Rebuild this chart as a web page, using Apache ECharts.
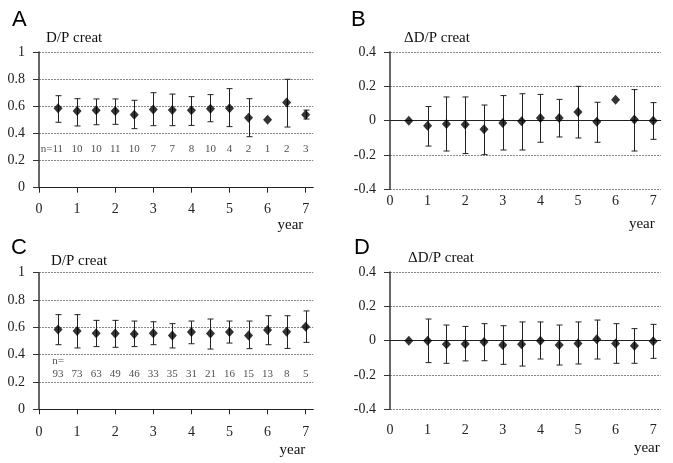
<!DOCTYPE html>
<html><head><meta charset="utf-8">
<script src="https://cdn.jsdelivr.net/npm/echarts@6/dist/echarts.min.js"></script>
<style>html,body{margin:0;padding:0;background:#fff}#c{width:673px;height:463px}</style>
</head><body><div id="c"></div>
<script>
// ---- data ----
const years = [0.5, 1, 1.5, 2, 2.5, 3, 3.5, 4, 4.5, 5, 5.5, 6, 6.5, 7];
const xTicks = [0, 1, 2, 3, 4, 5, 6, 7];

const aMean = [0.585, 0.565, 0.570, 0.565, 0.538, 0.577, 0.572, 0.570, 0.582, 0.585, 0.516, 0.501, 0.627, 0.538];
const aLow  = [0.482, 0.455, 0.464, 0.467, 0.435, 0.457, 0.457, 0.459, 0.486, 0.450, 0.376, null, 0.447, 0.506];
const aHigh = [0.678, 0.656, 0.654, 0.654, 0.644, 0.700, 0.690, 0.671, 0.686, 0.730, 0.656, null, 0.799, 0.572];
const aN    = [11, 10, 10, 11, 10, 7, 7, 8, 10, 4, 2, 1, 2, 3];

const bMean = [0, -0.029, -0.019, -0.023, -0.050, -0.014, -0.004, 0.016, 0.016, 0.050, -0.006, 0.122, 0.006, 0];
const bLow  = [null, -0.148, -0.177, -0.192, -0.198, -0.171, -0.171, -0.126, -0.095, -0.101, -0.126, null, -0.177, -0.109];
const bHigh = [null, 0.082, 0.138, 0.138, 0.091, 0.146, 0.157, 0.153, 0.124, 0.200, 0.107, null, 0.181, 0.105];

const cMean = [0.585, 0.573, 0.556, 0.554, 0.551, 0.556, 0.541, 0.566, 0.554, 0.566, 0.541, 0.580, 0.568, 0.605];
const cLow  = [0.473, 0.449, 0.459, 0.454, 0.459, 0.473, 0.449, 0.480, 0.441, 0.485, 0.444, 0.473, 0.446, 0.490];
const cHigh = [0.693, 0.693, 0.651, 0.651, 0.646, 0.641, 0.627, 0.646, 0.661, 0.646, 0.646, 0.685, 0.685, 0.720];
const cN    = [93, 73, 63, 49, 46, 33, 35, 31, 21, 16, 15, 13, 8, 5];

const dMean = [0, 0, -0.021, -0.019, -0.008, -0.025, -0.021, 0, -0.025, -0.016, 0.008, -0.016, -0.029, -0.004];
const dLow  = [null, -0.128, -0.132, -0.118, -0.117, -0.138, -0.148, -0.107, -0.142, -0.136, -0.107, -0.132, -0.132, -0.103];
const dHigh = [null, 0.126, 0.091, 0.083, 0.099, 0.087, 0.109, 0.109, 0.091, 0.109, 0.120, 0.099, 0.070, 0.095];

const panelLetters = ['A', 'B', 'C', 'D'];
const yTitleAbs = 'D/P creat';
const yTitleDelta = '\u0394D/P creat';
const xTitle = 'year';

// ---- chart ----
const serif = '"Liberation Serif","Times New Roman",serif';
const sans = '"Liberation Sans",Arial,sans-serif';
const chart = echarts.init(document.getElementById('c'), null, {renderer: 'canvas'});

function errData(lo, hi) {
  return years.map((x, i) => lo[i] == null ? null : [x, lo[i], hi[i]]).filter(Boolean);
}
function renderErr(params, api) {
  const x = api.value(0);
  const p1 = api.coord([x, api.value(2)]);
  const p2 = api.coord([x, api.value(1)]);
  const cx = Math.round(p1[0]) + 0.5;
  const w = 3;
  const st = {stroke: '#222', lineWidth: 1};
  return {type: 'group', children: [
    {type: 'line', shape: {x1: cx, y1: p1[1], x2: cx, y2: p2[1]}, style: st},
    {type: 'line', shape: {x1: cx - w, y1: p1[1], x2: cx + w, y2: p1[1]}, style: st},
    {type: 'line', shape: {x1: cx - w, y1: p2[1], x2: cx + w, y2: p2[1]}, style: st}
  ]};
}

const grids = [
  {left: 39, top: 52, width: 274.3, height: 135.7},
  {left: 390, top: 52, width: 270.7, height: 137.3},
  {left: 39, top: 272.7, width: 274.3, height: 136.6},
  {left: 390, top: 272, width: 270.7, height: 137.3}
];

function mainX(gi, ticks, margin, nameGap, namePad) {
  return {
    type: 'value', gridIndex: gi, min: 0, max: 7.2, position: 'bottom',
    name: xTitle, nameLocation: 'end', nameGap: nameGap,
    nameTextStyle: {fontFamily: serif, fontSize: 15, color: '#111', align: 'right', verticalAlign: 'top', padding: [namePad, 0, 0, 0]},
    axisLine: {show: ticks, onZero: false, lineStyle: {color: '#222', width: 1}},
    axisTick: {show: ticks, length: 5, customValues: xTicks, lineStyle: {color: '#222'}},
    axisLabel: {show: true, customValues: xTicks, margin: margin, fontFamily: serif, fontSize: 14, color: '#222'},
    splitLine: {show: false}
  };
}
function zeroX(gi) {
  return {
    type: 'value', gridIndex: gi, min: 0, max: 7.2, position: 'top',
    axisLine: {show: true, onZero: true, lineStyle: {color: '#222', width: 1}},
    axisTick: {show: false}, axisLabel: {show: false}, splitLine: {show: false}
  };
}
function yAx(gi, min, max, name, pad, gap) {
  return {
    type: 'value', gridIndex: gi, min: min, max: max, interval: 0.2,
    name: name, nameLocation: 'end', nameGap: gap,
    nameTextStyle: {fontFamily: serif, fontSize: 15, color: '#111', align: 'left', verticalAlign: 'middle', padding: [0, 0, 0, pad]},
    axisLine: {show: true, lineStyle: {color: '#333', width: 1.5}},
    axisTick: {show: true, inside: false, length: 6, lineStyle: {color: '#333'}},
    axisLabel: {margin: 14, fontFamily: serif, fontSize: 14, color: '#222',
      formatter: v => String(+v.toFixed(1))},
    splitLine: {show: true, lineStyle: {type: [2, 1], color: '#888', width: 1}}
  };
}

function meanSeries(xi, yi, vals) {
  return {type: 'scatter', xAxisIndex: xi, yAxisIndex: yi, symbol: 'diamond', symbolSize: [9, 10],
    itemStyle: {color: '#000'}, z: 5, silent: true,
    data: years.map((x, i) => [x, vals[i]])};
}
function errSeries(xi, yi, lo, hi) {
  return {type: 'custom', xAxisIndex: xi, yAxisIndex: yi, renderItem: renderErr, z: 3, silent: true,
    encode: {x: 0, y: [1, 2]}, data: errData(lo, hi)};
}
function nSeries(xi, yi, yv, ns, firstLabel) {
  return {type: 'scatter', xAxisIndex: xi, yAxisIndex: yi, symbolSize: 0, silent: true, z: 6,
    label: {show: true, position: 'inside', fontFamily: serif, fontSize: 11, color: '#222',
      formatter: p => String(p.value[2])},
    data: years.map((x, i) => i === 0 ? {value: [x, yv, ns[i]], label: firstLabel} : [x, yv, ns[i]])};
}

const option = {
  animation: false,
  backgroundColor: '#fff',
  title: [
    {text: panelLetters[0], left: 7, top: 4, textStyle: {fontFamily: sans, fontSize: 22, fontWeight: 'normal', color: '#000'}},
    {text: panelLetters[1], left: 346, top: 4, textStyle: {fontFamily: sans, fontSize: 22, fontWeight: 'normal', color: '#000'}},
    {text: panelLetters[2], left: 6, top: 232, textStyle: {fontFamily: sans, fontSize: 22, fontWeight: 'normal', color: '#000'}},
    {text: panelLetters[3], left: 349, top: 232, textStyle: {fontFamily: sans, fontSize: 22, fontWeight: 'normal', color: '#000'}}
  ],
  grid: grids,
  xAxis: [
    mainX(0, true, 15, -10, 30),
    mainX(1, false, 5, -6, 27),
    mainX(2, true, 16, -8, 33),
    mainX(3, false, 14, -1, 31),
    zeroX(1),
    zeroX(3)
  ],
  yAxis: [
    yAx(0, 0, 1, yTitleAbs, 7, 14),
    yAx(1, -0.4, 0.4, yTitleDelta, 14, 14),
    yAx(2, 0, 1, yTitleAbs, 12, 12),
    yAx(3, -0.4, 0.4, yTitleDelta, 18, 14)
  ],
  series: [
    errSeries(0, 0, aLow, aHigh), meanSeries(0, 0, aMean),
    nSeries(0, 0, 0.285, aN, {formatter: p => 'n=' + p.value[2], align: 'right', offset: [5, 0]}),
    errSeries(1, 1, bLow, bHigh), meanSeries(1, 1, bMean),
    errSeries(2, 2, cLow, cHigh), meanSeries(2, 2, cMean),
    nSeries(2, 2, 0.259, cN, {formatter: p => 'n=\n' + p.value[2], lineHeight: 13, offset: [0, -6.5]}),
    errSeries(3, 3, dLow, dHigh), meanSeries(3, 3, dMean)
  ]
};
chart.setOption(option);
</script>
</body></html>
